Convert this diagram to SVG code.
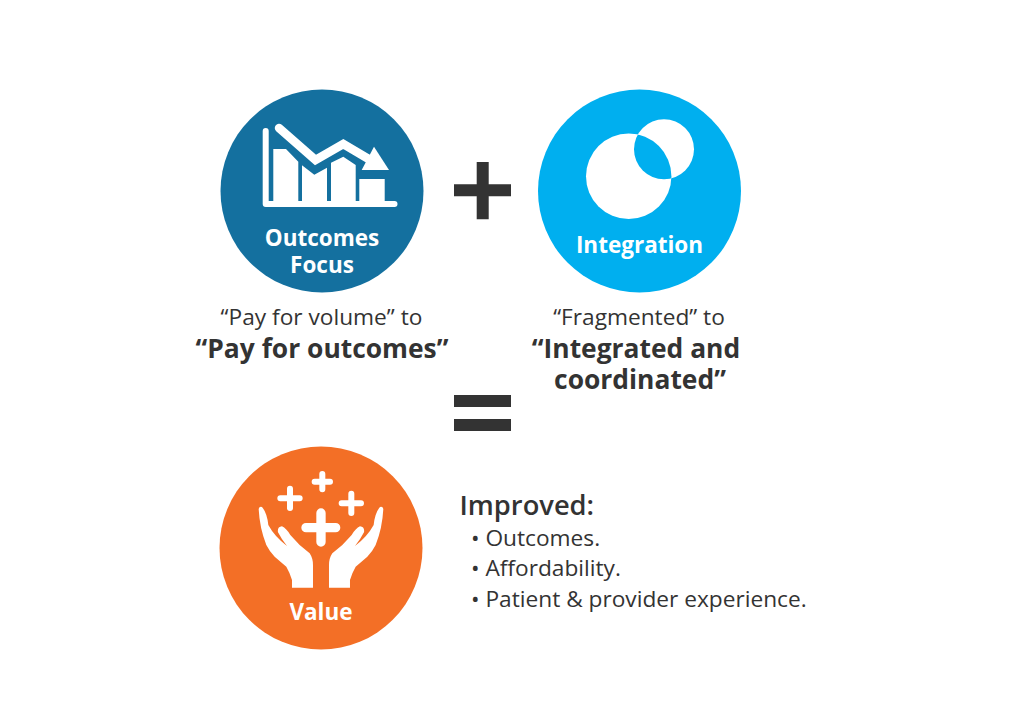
<svg xmlns="http://www.w3.org/2000/svg" width="1017" height="717" viewBox="0 0 1017 717">
<style>
text{font-family:"Open Sans","Noto Sans","Liberation Sans",sans-serif;text-anchor:middle}
.w{fill:#fff;font-weight:700;font-size:22.5px}
.ic{fill:#fff}
.d{fill:#333}
.t{fill:#333;font-size:22.7px}
.b{fill:#333;font-size:26.400px;font-weight:700}
.h{fill:#333;font-size:27.300px;font-weight:600;text-anchor:start}
.l{text-anchor:start}
</style>
<defs><clipPath id="lens"><circle cx="664" cy="149.3" r="30"/></clipPath></defs>
<rect width="1017" height="717" fill="#fff"/>
<g id="outcomes">
<circle cx="322" cy="191" r="101.500" fill="#14709f"/>
<path class="ic" d="M265.700 128a3 3 0 0 1 3 3V201H394.500a3 3 0 0 1 0 6H265.700a3 3 0 0 1-3-3V131a3 3 0 0 1 3-3z"/>
<path class="ic" d="M273.300 149H286L298.300 161.700V201H273.300zM302 165.300L314.300 174.700L327 167.700V201H302zM331 162.700L343.300 156.700L355.700 165V201H331zM359.300 179H384.700V201H359.300z"/>
<path fill="none" stroke="#fff" stroke-width="8.500" stroke-linecap="round" stroke-linejoin="miter" d="M279 128L315.500 160L343.300 144L372 161"/>
<path class="ic" d="M389 170H361.700L374 146.700z"/>
<text class="w" x="322" y="245.500">Outcomes</text>
<text class="w" x="322" y="272.500">Focus</text>
</g>
<g id="integration">
<circle cx="639.500" cy="191" r="101.500" fill="#00afef"/>
<circle class="ic" cx="628.700" cy="176.300" r="42.700"/>
<circle class="ic" cx="664" cy="149.300" r="30"/>
<circle cx="628.700" cy="176.300" r="42.700" fill="#00afef" clip-path="url(#lens)"/>
<text class="w" x="639.500" y="252.500">Integration</text>
</g>
<g id="value">
<circle cx="321" cy="548" r="101.500" fill="#f36f26"/>
<g transform="translate(218 445) scale(.3333)">
<g id="hands" class="ic">
<path d="M122 192Q124 183 132 186Q147 203 151 240Q170 275 207 303Q190 282 180 262Q177 246 192 244Q205 250 217 270L245 300L275 325Q285 340 285 360V428H222V405Q215 382 205 365L170 335Q155 320 145 300Q125 250 122 192Z"/>
<path d="M496 192Q494 183 486 186Q471 203 467 240Q448 275 411 303Q428 282 438 262Q441 246 426 244Q413 250 401 270L373 300L343 325Q333 340 333 360V428H396V405Q403 382 413 365L448 335Q463 320 473 300Q493 250 496 192Z"/>
</g>
<g fill="none" stroke="#fff" stroke-linecap="round">
<path stroke-width="28" d="M264 248H353M309 204V291"/>
<path stroke-width="18" d="M187 160H245M216 131V189M290 110H336M313 87V133M371 175H429M400 146V204"/>
</g>
</g>
<text class="w" x="321" y="620">Value</text>
</g>
<g id="plus"><path class="d" d="M476.700 162H488.700V184.300H511V196.300H488.700V219.300H476.700V196.300H454V184.300H476.700z"/></g>
<g id="equals"><path class="d" d="M454 395H511V407H454zM454 419H511V431H454z"/></g>
<g id="left-caption">
<text class="t" x="321.500" y="325">“Pay for volume” to</text>
<text class="b" x="322" y="358">“Pay for outcomes”</text>
</g>
<g id="right-caption">
<text class="t" x="639" y="325">“Fragmented” to</text>
<text class="b" x="636" y="358">“Integrated and</text>
<text class="b" x="640" y="389">coordinated”</text>
</g>
<g id="improved">
<text class="h" x="459.500" y="515">Improved:</text>
<text class="t l" x="471" y="545.500">• Outcomes.</text>
<text class="t l" x="471" y="576">• Affordability.</text>
<text class="t l" x="471" y="607">• Patient &amp; provider experience.</text>
</g>
</svg>
